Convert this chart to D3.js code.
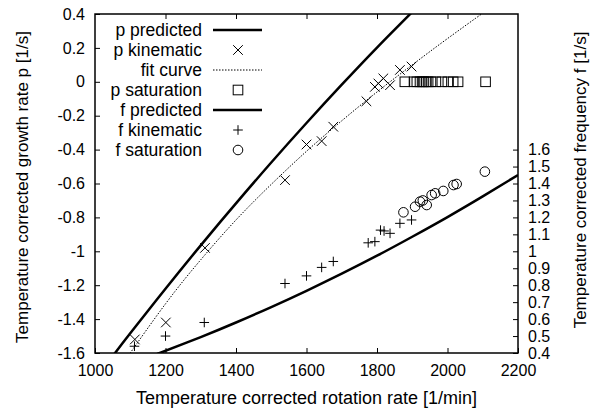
<!DOCTYPE html>
<html>
<head>
<meta charset="utf-8">
<script src="https://cdn.jsdelivr.net/npm/d3@7"></script>
<style>
  body { margin: 0; background: #fff; }
  svg { font-family: "Liberation Sans", Arial, sans-serif; }
  .tick text { font-size: 16px; fill: #000; }
  .tick line { stroke: #000; }
</style>
</head>
<body>
<div id="vis"></div>
<script>
// rotation rate [1/min] and growth rate p [1/s]
const pPredRpm = [1050, 1100, 1200, 1300, 1400, 1500, 1600, 1700, 1800, 1900];
const pPredVal = [-1.619, -1.484, -1.221, -0.965, -0.717, -0.476, -0.243, -0.017, 0.202, 0.412];

const fitRpm = [1080, 1100, 1200, 1300, 1400, 1500, 1600, 1700, 1800, 1900, 2000, 2100, 2120];
const fitVal = [-1.66, -1.60, -1.31, -1.05, -0.815, -0.605, -0.41, -0.23, -0.06, 0.10, 0.255, 0.405, 0.435];

const pKinRpm = [1113, 1201, 1312, 1539, 1600, 1643, 1676, 1770, 1794, 1804, 1818, 1837, 1865, 1898];
const pKinVal = [-1.52, -1.42, -0.98, -0.58, -0.37, -0.35, -0.265, -0.115, -0.03, -0.01, 0.02, -0.02, 0.07, 0.09];

const pSatRpm = [1879, 1905, 1913, 1922, 1928, 1933, 1939, 1945, 1953, 1967, 1984, 2001, 2016, 2030, 2108];
const pSatVal = [0, 0, 0, 0, 0, 0, 0, 0, 0, 0, 0, 0, 0, 0, 0];

// frequency f [1/s], right axis
const fPredRpm = [1150, 1184, 1300, 1400, 1500, 1600, 1700, 1800, 1900, 2000, 2100, 2200];
const fPredVal = [0.371, 0.40, 0.494, 0.580, 0.671, 0.767, 0.868, 0.974, 1.086, 1.202, 1.324, 1.45];

const fKinRpm = [1112, 1200, 1310, 1539, 1600, 1643, 1676, 1775, 1794, 1810, 1820, 1837, 1865, 1898];
const fKinVal = [0.44, 0.50, 0.58, 0.81, 0.855, 0.905, 0.94, 1.05, 1.057, 1.125, 1.12, 1.106, 1.165, 1.185];

const fSatRpm = [1875, 1908, 1922, 1930, 1941, 1955, 1965, 1988, 2017, 2026, 2106];
const fSatVal = [1.23, 1.263, 1.293, 1.30, 1.273, 1.332, 1.342, 1.356, 1.391, 1.397, 1.47];

const xTicks = [1000, 1200, 1400, 1600, 1800, 2000, 2200];
const yTicks = [0.4, 0.2, 0, -0.2, -0.4, -0.6, -0.8, -1, -1.2, -1.4, -1.6];
const y2Ticks = [0.4, 0.5, 0.6, 0.7, 0.8, 0.9, 1, 1.1, 1.2, 1.3, 1.4, 1.5, 1.6];

const legendLabels = ['p predicted', 'p kinematic', 'fit curve', 'p saturation',
                      'f predicted', 'f kinematic', 'f saturation'];

let width = 600, height = 413;
let margin = {top: 14, right: 82, bottom: 60, left: 95};
let plotW = width - margin.left - margin.right,
    plotH = height - margin.top - margin.bottom;

let xScale = d3.scaleLinear().domain([1000, 2200]).range([0, plotW]);
let yScale = d3.scaleLinear().domain([-1.6, 0.4]).range([plotH, 0]);
let y2Scale = d3.scaleLinear().domain([0.4, 2.4]).range([plotH, 0]);

let svg = d3.select('#vis').append('svg')
    .attr('width', width)
    .attr('height', height);

svg.append('defs').append('clipPath').attr('id', 'clip')
    .append('rect').attr('width', plotW).attr('height', plotH);

let g = svg.append('g')
    .attr('transform', 'translate(' + margin.left + ',' + margin.top + ')');

// axes, ticks pointing inward like gnuplot
let fmt = d => String(+d.toFixed(1));

g.append('g')
    .attr('transform', 'translate(0,' + plotH + ')')
    .call(d3.axisBottom(xScale).tickValues(xTicks).tickSizeInner(-5).tickSizeOuter(0).tickPadding(12).tickFormat(d => String(d)))
    .call(a => a.select('.domain').remove());

g.append('g')
    .call(d3.axisTop(xScale).tickValues(xTicks.slice(1, -1)).tickSizeInner(-5).tickSizeOuter(0).tickFormat(''))
    .call(a => a.select('.domain').remove());

g.append('g')
    .call(d3.axisLeft(yScale).tickValues(yTicks).tickSizeInner(-5).tickSizeOuter(0).tickPadding(10).tickFormat(fmt))
    .call(a => a.select('.domain').remove());

g.append('g')
    .attr('transform', 'translate(' + plotW + ',0)')
    .call(d3.axisRight(y2Scale).tickValues(y2Ticks).tickSizeInner(-5).tickSizeOuter(0).tickPadding(10).tickFormat(fmt))
    .call(a => a.select('.domain').remove());

g.append('rect')
    .attr('width', plotW)
    .attr('height', plotH)
    .attr('fill', 'none')
    .attr('stroke', '#000')
    .attr('stroke-width', 1.5);

// axis titles
svg.append('text')
    .attr('x', margin.left + plotW / 2)
    .attr('y', 404)
    .attr('text-anchor', 'middle')
    .attr('font-size', 18)
    .text('Temperature corrected rotation rate [1/min]');

svg.append('text')
    .attr('transform', 'translate(28,' + 187 + ') rotate(-90)')
    .attr('text-anchor', 'middle')
    .attr('font-size', 17)
    .text('Temperature corrected growth rate p [1/s]');

svg.append('text')
    .attr('transform', 'translate(586,' + 180 + ') rotate(-90)')
    .attr('text-anchor', 'middle')
    .attr('font-size', 17)
    .text('Temperature corrected frequency f [1/s]');

// data
let zip = (xs, ys) => xs.map((x, i) => ({x: x, y: ys[i]}));

let plot = g.append('g').attr('clip-path', 'url(#clip)');

let lineP = d3.line().x(d => xScale(d.x)).y(d => yScale(d.y)).curve(d3.curveNatural);
let lineF = d3.line().x(d => xScale(d.x)).y(d => y2Scale(d.y)).curve(d3.curveNatural);

plot.append('path')
    .datum(zip(pPredRpm, pPredVal))
    .attr('d', lineP)
    .attr('fill', 'none').attr('stroke', '#000').attr('stroke-width', 2.5);

plot.append('path')
    .datum(zip(fitRpm, fitVal))
    .attr('d', lineP)
    .attr('fill', 'none').attr('stroke', '#000').attr('stroke-width', 1)
    .attr('stroke-dasharray', '1.5,1.5');

plot.append('path')
    .datum(zip(fPredRpm, fPredVal))
    .attr('d', lineF)
    .attr('fill', 'none').attr('stroke', '#000').attr('stroke-width', 2.5);

// marker shapes
const s = 4.8;
function cross(sel) {
    sel.append('path').attr('d', `M${-s},${-s}L${s},${s}M${-s},${s}L${s},${-s}`)
        .attr('stroke', '#000').attr('stroke-width', 1).attr('fill', 'none');
}
function plus(sel) {
    sel.append('path').attr('d', `M${-s},0L${s},0M0,${-s}L0,${s}`)
        .attr('stroke', '#000').attr('stroke-width', 1).attr('fill', 'none');
}
function square(sel) {
    sel.append('rect').attr('x', -s).attr('y', -s).attr('width', 2 * s).attr('height', 2 * s)
        .attr('stroke', '#000').attr('stroke-width', 1).attr('fill', 'none');
}
function circle(sel) {
    sel.append('circle').attr('r', s)
        .attr('stroke', '#000').attr('stroke-width', 1).attr('fill', 'none');
}

function points(data, yS, shape) {
    plot.append('g').selectAll('g')
        .data(data)
        .enter()
        .append('g')
        .attr('transform', d => 'translate(' + xScale(d.x) + ',' + yS(d.y) + ')')
        .call(shape);
}

points(zip(pKinRpm, pKinVal), yScale, cross);
points(zip(pSatRpm, pSatVal), yScale, square);
points(zip(fKinRpm, fKinVal), y2Scale, plus);
points(zip(fSatRpm, fSatVal), y2Scale, circle);

// legend
let legend = svg.append('g').attr('transform', 'translate(0,30)');
let shapes = ['thick', cross, 'dot', square, 'thick', plus, circle];

legendLabels.forEach(function(label, i) {
    let row = legend.append('g').attr('transform', 'translate(0,' + (i * 20) + ')');
    row.append('text')
        .attr('x', 202)
        .attr('y', 0)
        .attr('dy', '0.35em')
        .attr('text-anchor', 'end')
        .attr('font-size', 17.5)
        .text(label);
    let sh = shapes[i];
    if (sh === 'thick' || sh === 'dot') {
        row.append('line')
            .attr('x1', 213).attr('x2', 262)
            .attr('stroke', '#000')
            .attr('stroke-width', sh === 'thick' ? 2.5 : 1)
            .attr('stroke-dasharray', sh === 'dot' ? '1.5,1.5' : null);
    } else {
        row.append('g').attr('transform', 'translate(238,0)').call(sh);
    }
});
</script>
</body>
</html>
